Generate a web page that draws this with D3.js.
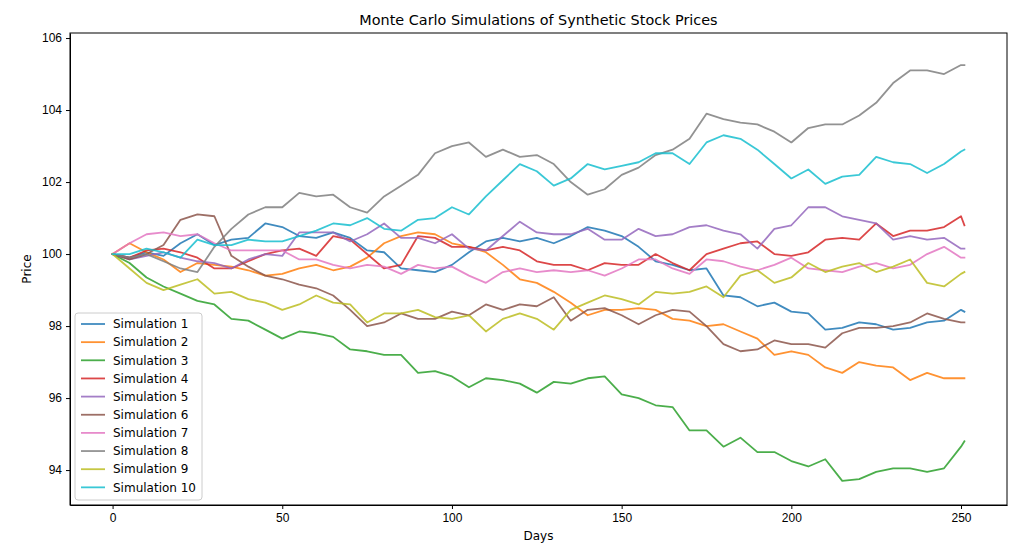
<!DOCTYPE html>
<html>
<head>
<meta charset="utf-8">
<script src="https://cdn.jsdelivr.net/npm/d3@7"></script>
<style>
  body { margin: 0; background: #fff; }
  svg { display: block; font-family: "DejaVu Sans", sans-serif; }
  .axis text { font-size: 12px; fill: #000; }
  .axis path, .axis line { stroke: #000; stroke-width: 1; }
</style>
</head>
<body>
<div id="chart"></div>
<script>
// sampled days (every 5 days + last day)
const days = [0,5,10,15,20,25,30,35,40,45,50,55,60,65,70,75,80,85,90,95,100,105,110,115,120,125,
  130,135,140,145,150,155,160,165,170,175,180,185,190,195,200,205,210,215,220,225,230,235,240,245,250,251];

const sim1 = [100.0,99.9,100.05,99.95,100.3,100.55,100.25,100.4,100.45,100.85,100.75,100.5,100.45,100.6,100.45,100.1,100.05,99.6,99.55,99.5,
  99.7,100.05,100.35,100.45,100.35,100.45,100.3,100.5,100.75,100.65,100.5,100.2,99.8,99.7,99.55,99.6,98.85,98.8,98.55,98.65,
  98.4,98.35,97.9,97.95,98.1,98.05,97.9,97.95,98.1,98.15,98.45,98.4];
const sim2 = [100.0,100.3,100.05,99.85,99.5,99.75,99.7,99.65,99.55,99.4,99.45,99.6,99.7,99.55,99.65,99.9,100.3,100.5,100.6,100.55,
  100.3,100.2,100.05,99.7,99.3,99.2,98.95,98.65,98.3,98.45,98.45,98.5,98.45,98.2,98.15,98.0,98.05,97.85,97.65,97.2,
  97.3,97.2,96.85,96.7,97.0,96.9,96.85,96.5,96.7,96.55,96.55,96.55];
const sim3 = [100.0,99.75,99.35,99.1,98.9,98.7,98.6,98.2,98.15,97.9,97.65,97.85,97.8,97.7,97.35,97.3,97.2,97.2,96.7,96.75,
  96.6,96.3,96.55,96.5,96.4,96.15,96.45,96.4,96.55,96.6,96.1,96.0,95.8,95.75,95.1,95.1,94.65,94.9,94.5,94.5,
  94.25,94.1,94.3,93.7,93.75,93.95,94.05,94.05,93.95,94.05,94.65,94.8];
const sim4 = [100.0,99.9,100.1,100.15,100.05,99.9,99.6,99.6,99.8,100.0,100.1,100.15,99.95,100.5,100.4,100.0,99.6,99.7,100.5,100.45,
  100.2,100.2,100.1,100.2,100.1,99.8,99.7,99.7,99.55,99.75,99.7,99.7,100.0,99.75,99.55,100.0,100.15,100.3,100.35,100.0,
  99.95,100.05,100.4,100.45,100.4,100.85,100.5,100.65,100.65,100.75,101.05,100.8];
const sim5 = [100.0,99.85,99.95,100.05,99.9,99.8,99.75,99.6,99.85,100.0,99.95,100.6,100.6,100.6,100.35,100.55,100.85,100.45,100.45,100.3,
  100.55,100.15,100.1,100.5,100.9,100.6,100.55,100.55,100.7,100.4,100.4,100.7,100.5,100.55,100.75,100.8,100.65,100.55,100.15,100.7,
  100.8,101.3,101.3,101.05,100.95,100.85,100.4,100.5,100.4,100.45,100.15,100.15];
const sim6 = [100.0,99.85,100.0,100.25,100.95,101.1,101.05,99.95,99.65,99.4,99.3,99.15,99.05,98.85,98.45,98.0,98.1,98.35,98.2,98.2,
  98.4,98.3,98.6,98.45,98.6,98.55,98.8,98.15,98.45,98.5,98.3,98.05,98.3,98.45,98.4,98.0,97.5,97.3,97.35,97.6,
  97.5,97.5,97.4,97.8,97.95,97.95,98.0,98.1,98.35,98.2,98.1,98.1];
const sim7 = [100.0,100.3,100.55,100.6,100.5,100.55,100.3,100.1,100.1,100.1,100.1,99.85,99.85,99.7,99.6,99.7,99.65,99.45,99.7,99.6,
  99.65,99.4,99.2,99.5,99.6,99.5,99.55,99.5,99.55,99.4,99.6,99.85,99.85,99.6,99.45,99.85,99.8,99.65,99.55,99.7,
  99.9,99.6,99.55,99.5,99.65,99.75,99.6,99.7,100.0,100.2,99.9,99.9];
const sim8 = [100.0,99.9,100.0,99.8,99.6,99.5,100.2,100.7,101.1,101.3,101.3,101.7,101.6,101.65,101.3,101.15,101.6,101.9,102.2,102.8,
  103.0,103.1,102.7,102.9,102.7,102.75,102.5,102.0,101.65,101.8,102.2,102.4,102.75,102.9,103.2,103.9,103.75,103.65,103.6,103.4,
  103.1,103.5,103.6,103.6,103.85,104.2,104.75,105.1,105.1,105.0,105.25,105.25];
const sim9 = [100.0,99.6,99.2,99.0,99.15,99.3,98.9,98.95,98.75,98.65,98.45,98.6,98.85,98.65,98.6,98.1,98.35,98.35,98.45,98.25,
  98.2,98.3,97.85,98.2,98.35,98.2,97.9,98.45,98.65,98.85,98.75,98.6,98.95,98.9,98.95,99.1,98.8,99.4,99.55,99.2,
  99.35,99.75,99.5,99.65,99.75,99.5,99.65,99.85,99.2,99.1,99.45,99.5];
const sim10 = [100.0,100.0,100.15,100.05,99.9,100.4,100.25,100.25,100.4,100.35,100.35,100.5,100.65,100.85,100.8,101.0,100.7,100.65,100.95,101.0,
  101.3,101.1,101.6,102.05,102.5,102.3,101.9,102.1,102.5,102.35,102.45,102.55,102.8,102.8,102.5,103.1,103.3,103.2,102.9,102.5,
  102.1,102.35,101.95,102.15,102.2,102.7,102.55,102.5,102.25,102.5,102.85,102.9];

const seriesNames = ["Simulation 1","Simulation 2","Simulation 3","Simulation 4","Simulation 5",
  "Simulation 6","Simulation 7","Simulation 8","Simulation 9","Simulation 10"];
const seriesValues = [sim1, sim2, sim3, sim4, sim5, sim6, sim7, sim8, sim9, sim10];
const xTicks = [0, 50, 100, 150, 200, 250];
const yTicks = [94, 96, 98, 100, 102, 104, 106];

const W = 1024, H = 555;
const m = { t: 33, r: 17, b: 50, l: 70 };
const svg = d3.select("#chart").append("svg").attr("width", W).attr("height", H);
const color = d3.scaleOrdinal(d3.schemeCategory10).domain(seriesNames);

const x = d3.scaleLinear().domain([-12.55, 263.55]).range([m.l, W - m.r]);
const y = d3.scaleLinear().domain([93.03, 106.14]).range([H - m.b, m.t]);

// lines (slightly transparent, like the reference)
const line = d3.line().x((d, i) => x(days[i])).y(d => y(d));
const plot = svg.append("g");
seriesValues.forEach((vals, k) => {
  plot.append("path").datum(vals)
    .attr("fill", "none").attr("stroke", color(seriesNames[k])).attr("stroke-opacity", 0.85)
    .attr("stroke-width", 1.8).attr("stroke-linejoin", "round").attr("stroke-linecap", "square")
    .attr("d", line);
});

// axes
svg.append("g").attr("class", "axis").attr("transform", `translate(0,${H - m.b})`)
  .call(d3.axisBottom(x).tickValues(xTicks).tickSize(4).tickPadding(4).tickSizeOuter(0));
svg.append("g").attr("class", "axis").attr("transform", `translate(${m.l},0)`)
  .call(d3.axisLeft(y).tickValues(yTicks).tickSize(4).tickPadding(4).tickSizeOuter(0));

// frame
svg.append("rect").attr("x", m.l).attr("y", m.t)
  .attr("width", W - m.l - m.r).attr("height", H - m.t - m.b)
  .attr("fill", "none").attr("stroke", "#000").attr("stroke-width", 1);

// titles
svg.append("text").attr("x", (m.l + W - m.r) / 2).attr("y", 25).attr("text-anchor", "middle")
  .attr("font-size", 14.4).text("Monte Carlo Simulations of Synthetic Stock Prices");
svg.append("text").attr("x", (m.l + W - m.r) / 2).attr("y", 540).attr("text-anchor", "middle")
  .attr("font-size", 12).text("Days");
svg.append("text").attr("transform", `translate(31,${(m.t + H - m.b) / 2}) rotate(-90)`)
  .attr("text-anchor", "middle").attr("font-size", 12).text("Price");

// legend
const lg = svg.append("g").attr("transform", "translate(75,313)");
lg.append("rect").attr("width", 127).attr("height", 187).attr("rx", 3)
  .attr("fill", "#fff").attr("fill-opacity", 0.8).attr("stroke", "#ccc");
const rows = lg.selectAll("g.row").data(seriesNames).join("g").attr("class", "row")
  .attr("transform", (d, i) => `translate(0,${11 + i * 18.15})`);
rows.append("line").attr("x1", 6).attr("x2", 30).attr("stroke", d => color(d))
  .attr("stroke-opacity", 0.85).attr("stroke-width", 1.8);
rows.append("text").attr("x", 38).attr("dy", "0.35em").attr("font-size", 12).text(d => d);
</script>
</body>
</html>
